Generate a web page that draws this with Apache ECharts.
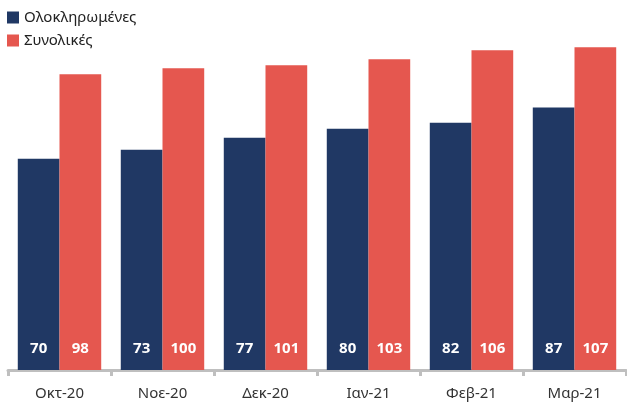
<!DOCTYPE html>
<html>
<head>
<meta charset="utf-8">
<script src="https://cdn.jsdelivr.net/npm/echarts@6/dist/echarts.min.js"></script>
<style>
  html, body { margin: 0; padding: 0; background: #fff; }
  #chart { width: 627px; height: 403px; }
</style>
</head>
<body>
<div id="chart"></div>
<script>
const months = ['Οκτ-20', 'Νοε-20', 'Δεκ-20', 'Ιαν-21', 'Φεβ-21', 'Μαρ-21'];
const completed = [70, 73, 77, 80, 82, 87];
const total = [98, 100, 101, 103, 106, 107];

const font = 'Noto Sans';

const chart = echarts.init(document.getElementById('chart'));

const barLabel = {
    show: true,
    position: 'insideBottom',
    distance: 14,
    color: '#fff',
    fontWeight: 'bold',
    fontSize: 15,
    fontFamily: font
};

chart.setOption({
    animation: false,
    legend: {
        orient: 'vertical',
        left: 2,
        top: 5,
        itemWidth: 12,
        itemHeight: 12,
        itemGap: 8,
        icon: 'rect',
        textStyle: { fontSize: 15, color: '#222', fontFamily: font }
    },
    grid: { left: 8, right: 1, top: 8, bottom: 33 },
    xAxis: {
        type: 'category',
        data: months,
        axisLine: { lineStyle: { color: '#BFBFBF', width: 3 } },
        axisTick: { show: true, length: 6, lineStyle: { color: '#BFBFBF', width: 3 } },
        axisLabel: { fontSize: 15, color: '#333', margin: 16, fontFamily: font }
    },
    yAxis: {
        type: 'value',
        min: 0,
        max: 120,
        show: false,
        splitLine: { show: false }
    },
    series: [
        {
            name: 'Ολοκληρωμένες',
            type: 'bar',
            data: completed,
            barGap: '0%',
            barCategoryGap: '19%',
            itemStyle: { color: '#203864' },
            label: barLabel
        },
        {
            name: 'Συνολικές',
            type: 'bar',
            data: total,
            itemStyle: { color: '#E5574F' },
            label: barLabel
        }
    ]
});
</script>
</body>
</html>
